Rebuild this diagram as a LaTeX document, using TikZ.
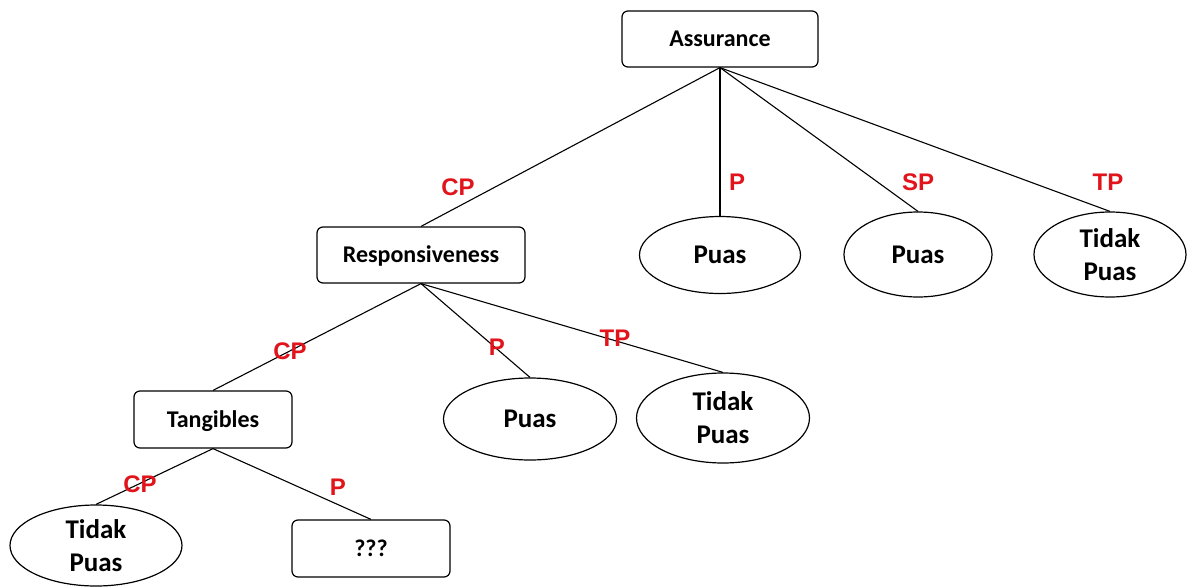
\documentclass[tikz,border=0pt]{standalone}
\usepackage{fontspec}
\setmainfont{Carlito}
\newfontfamily\labfont{Liberation Sans}
\usetikzlibrary{shapes.geometric}
\definecolor{lbl}{RGB}{225,20,28}
\begin{document}
\begin{tikzpicture}[x=1pt,y=-1pt,
  box/.style={draw, rounded corners=6pt, line width=1.2pt, inner sep=0pt,
    font=\fontsize{24}{28}\selectfont\bfseries, text height=20.5pt, text depth=5pt},
  oval/.style={draw, ellipse, line width=1.2pt, inner sep=0pt, align=center,
    font=\fontsize{27}{33}\selectfont\bfseries},
  edge/.style={line width=1.1pt},
  lab/.style={text=lbl, inner sep=0pt, font=\labfont\fontsize{24}{28}\selectfont\bfseries}]
\useasboundingbox[fill=white] (0,0) rectangle (1187,587);

% boxes
\node[box, minimum width=196pt, minimum height=56pt] (A) at (720,39) {Assurance};
\node[box, minimum width=208pt, minimum height=56pt] (R) at (421,255) {Responsiveness};
\node[box, minimum width=158pt, minimum height=57pt] (T) at (213,419.5) {Tangibles};
\node[box, minimum width=158pt, minimum height=57pt] (Q) at (371,548.5) {???};

% ellipses
\node[oval, minimum width=161pt, minimum height=77pt] (P1) at (720,255) {Puas};
\node[oval, minimum width=148pt, minimum height=85pt] (P2) at (918,254.5) {Puas};
\node[oval, minimum width=152pt, minimum height=85pt] (P3) at (1110,254.5) {Tidak\\Puas};
\node[oval, minimum width=173pt, minimum height=82pt] (P4) at (530,419) {Puas};
\node[oval, minimum width=173pt, minimum height=90pt] (P5) at (723,418) {Tidak\\Puas};
\node[oval, minimum width=172pt, minimum height=81pt] (P6) at (96,545.5) {Tidak\\Puas};

% connectors
\draw[edge] (A.south) -- (R.north);
\draw[edge] (A.south) -- (P1.north);
\draw[edge] (A.south) -- (P2.north);
\draw[edge] (A.south) -- (P3.north);
\draw[edge] (R.south) -- (T.north);
\draw[edge] (R.south) -- (P4.north);
\draw[edge] (R.south) -- (P5.north);
\draw[edge] (T.south) -- (P6.north);
\draw[edge] (T.south) -- (Q.north);

% labels
\node[lab] (l1) at (458,187) {CP};
\node[lab] (l2) at (737,182) {P};
\node[lab] (l3) at (918,182) {SP};
\node[lab] (l4) at (1108,182) {TP};
\node[lab] (l5) at (290,351) {CP};
\node[lab] (l6) at (497,347) {P};
\node[lab] (l7) at (615,338) {TP};
\node[lab] (l8) at (140,484) {CP};
\node[lab] (l9) at (338,487) {P};
\end{tikzpicture}
\end{document}
